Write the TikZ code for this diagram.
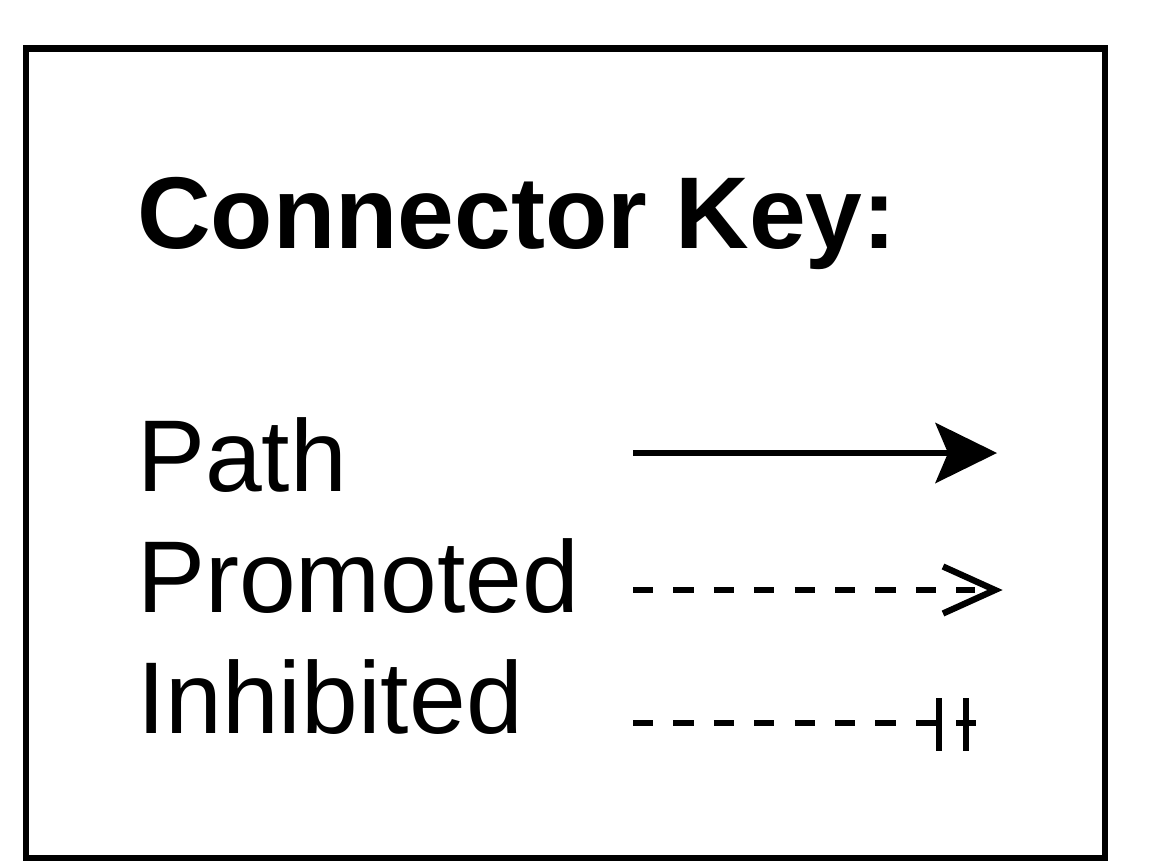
\documentclass[tikz,border=0pt]{standalone}
\usepackage{fontspec}
\setmainfont{Liberation Sans}
\begin{document}
\begin{tikzpicture}[x=1pt,y=-1pt,
  keytext/.style={anchor=base west,inner sep=0pt,font=\fontsize{102}{110}\selectfont},
  conn/.style={line width=6.3pt},
  dashconn/.style={line width=6.3pt,dash pattern=on 20.2pt off 20.2pt},
  frame/.style={line width=6.5pt}]
\useasboundingbox (0,0) rectangle (1152,865);
\draw[frame] (26,48.5) rectangle (1105,858);
\node[keytext,font=\fontsize{102}{110}\selectfont\bfseries] (title) at (137,248) {Connector Key:};
\node[keytext] (lpath) at (137,491) {Path};
\node[keytext] (lprom) at (137,612) {Promoted};
\node[keytext] (linh) at (137,733) {Inhibited};
% Path
\coordinate (pa) at (633,453);
\coordinate (pb) at (997,453);
\draw[conn] (pa) -- ([xshift=-45pt]pb);
\fill (pb) -- ++(-62,-30.5) -- ++(13,30.5) -- ++(-13,30.5) -- cycle;
% Promoted
\coordinate (ma) at (633,590);
\coordinate (mb) at (995,590);
\draw[dashconn] (ma) -- ([xshift=-20pt]mb);
\draw[conn,miter limit=10] ([shift={(-52,-23.5)}]mb) -- (mb) -- ([shift={(-52,23.5)}]mb);
% Inhibited
\coordinate (ia) at (633,723);
\coordinate (ib) at (977,723);
\draw[dashconn] (ia) -- (ib);
\draw[conn] (939,698) -- (939,751);
\draw[conn] (966,698) -- (966,751);
\end{tikzpicture}
\end{document}
